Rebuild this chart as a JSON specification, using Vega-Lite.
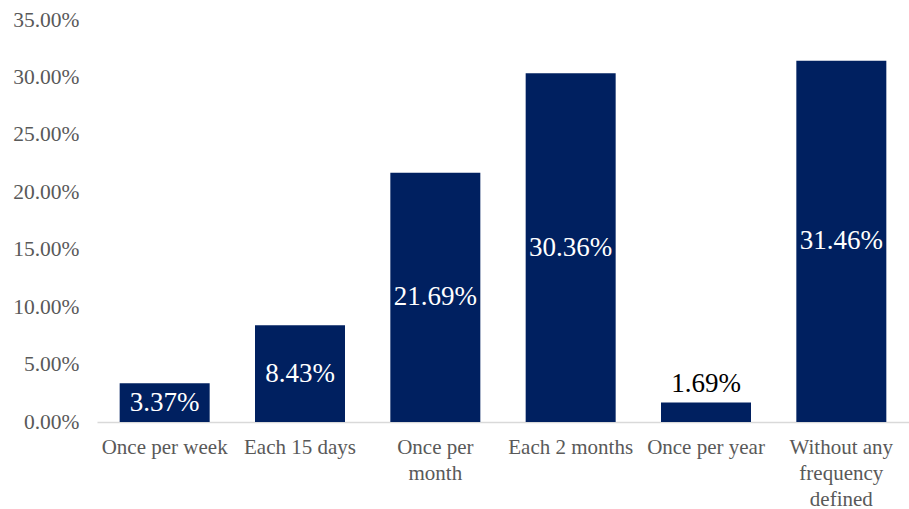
{
  "$schema": "https://vega.github.io/schema/vega-lite/v6.json",
  "autosize": "none",
  "padding": {"left": 97, "top": 20, "right": 0, "bottom": 87},
  "width": 812,
  "height": 402,
  "background": "white",
  "config": {"view": {"stroke": null}, "font": "Liberation Serif"},
  "data": {"values": [
    {"category": "Once per week", "value": 0.0337},
    {"category": "Each 15 days", "value": 0.0843},
    {"category": "Once per|month", "value": 0.2169},
    {"category": "Each 2 months", "value": 0.3036},
    {"category": "Once per year", "value": 0.0169},
    {"category": "Without any|frequency|defined", "value": 0.3146}
  ]},
  "encoding": {
    "x": {"field": "category", "type": "nominal", "sort": null,
      "scale": {"paddingInner": 0.335, "paddingOuter": 0.1675},
      "axis": {"title": null, "labelAngle": 0, "ticks": false, "domainColor": "#d9d9d9", "domainWidth": 1.5,
        "labelFont": "Liberation Serif", "labelFontSize": 21, "labelColor": "#595959", "labelPadding": 14,
        "labelLineHeight": 26, "labelExpr": "split(datum.label, '|')"}}
  },
  "layer": [
    {"mark": {"type": "bar", "color": "#002060"},
     "encoding": {"y": {"field": "value", "type": "quantitative",
       "scale": {"domain": [0, 0.35]},
       "axis": {"title": null, "format": ".2%", "values": [0, 0.05, 0.1, 0.15, 0.2, 0.25, 0.3, 0.35], "labelOverlap": false, "grid": false, "domain": false, "ticks": false,
         "labelFont": "Liberation Serif", "labelFontSize": 21.5, "labelColor": "#595959", "labelPadding": 18}}}},
    {"transform": [{"filter": "datum.value > 0.02"}, {"calculate": "datum.value / 2", "as": "mid"}],
     "mark": {"type": "text", "color": "white", "fontSize": 27, "font": "Liberation Serif", "baseline": "middle"},
     "encoding": {"y": {"field": "mid", "type": "quantitative"}, "text": {"field": "value", "type": "quantitative", "format": ".2%"}}},
    {"transform": [{"filter": "datum.value <= 0.02"}],
     "mark": {"type": "text", "color": "#000000", "fontSize": 27, "font": "Liberation Serif", "baseline": "bottom", "dy": -5},
     "encoding": {"y": {"field": "value", "type": "quantitative"}, "text": {"field": "value", "type": "quantitative", "format": ".2%"}}}
  ]
}
